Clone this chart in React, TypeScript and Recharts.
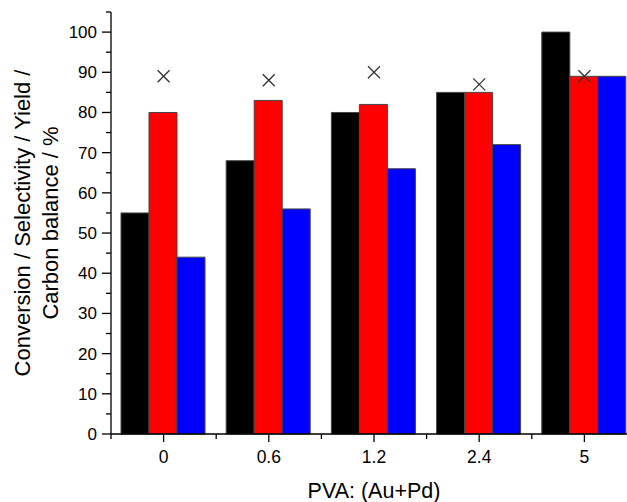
import { ComposedChart, Bar, Line, XAxis, YAxis } from "recharts";

const categories = ["0", "0.6", "1.2", "2.4", "5"];
const conversion = [55, 68, 80, 85, 100];
const selectivity = [80, 83, 82, 85, 89];
const yieldValues = [44, 56, 66, 72, 89];
const carbonBalance = [89, 88, 90, 87, 89];
const yTicks = [0, 5, 10, 15, 20, 25, 30, 35, 40, 45, 50, 55, 60, 65, 70, 75, 80, 85, 90, 95, 100, 105];

const data = categories.map((name, i) => ({
  name,
  conversion: conversion[i],
  selectivity: selectivity[i],
  yield: yieldValues[i],
  balance: carbonBalance[i],
}));

const W = 640;
const H = 502;
const M = { top: 12, right: 3, left: 0, bottom: 0 };
const Y_W = 111;
const X_H = 68;
const BAND = (W - Y_W - M.left - M.right) / categories.length;
const FONT = "'Liberation Sans', Arial, sans-serif";

function YTick(props: any) {
  const { x, y, payload } = props;
  const major = payload.value % 10 === 0 && payload.value <= 100;
  return (
    <g>
      <line x1={x - (major ? 9 : 5)} x2={x} y1={y} y2={y} stroke="#000" strokeWidth={1.3} />
      {major && (
        <text x={x - 14} y={y + 6} textAnchor="end" fontSize={17} fontFamily={FONT} fill="#000">
          {payload.value}
        </text>
      )}
    </g>
  );
}

function XTick(props: any) {
  const { x, y, payload, index } = props;
  return (
    <g>
      <line x1={x} x2={x} y1={y} y2={y + 8} stroke="#000" strokeWidth={1.3} />
      <line x1={x + BAND / 2} x2={x + BAND / 2} y1={y} y2={y + 5} stroke="#000" strokeWidth={1.3} />
      {index === 0 && (
        <line x1={x - BAND / 2} x2={x - BAND / 2} y1={y} y2={y + 5} stroke="#000" strokeWidth={1.3} />
      )}
      <text x={x} y={y + 29} textAnchor="middle" fontSize={17.5} fontFamily={FONT} fill="#000">
        {payload.value}
      </text>
    </g>
  );
}

function YLabel() {
  const cy = M.top + (H - M.top - M.bottom - X_H) / 2;
  return (
    <g fontSize={22} fontFamily={FONT} fill="#000">
      <text transform={`translate(30,${cy}) rotate(-90)`} textAnchor="middle">
        Conversion / Selectivity / Yield /
      </text>
      <text transform={`translate(58,${cy}) rotate(-90)`} textAnchor="middle">
        Carbon balance / %
      </text>
    </g>
  );
}

function XLabel(props: any) {
  const { viewBox } = props;
  return (
    <text x={viewBox.x + viewBox.width / 2} y={498} textAnchor="middle" fontSize={21.5} fontFamily={FONT} fill="#000">
      PVA: (Au+Pd)
    </text>
  );
}

function Cross(props: any) {
  const { cx, cy } = props;
  if (cx == null || cy == null) return null;
  const s = 6;
  return (
    <g stroke="#333" strokeWidth={1.3}>
      <line x1={cx - s} y1={cy - s} x2={cx + s} y2={cy + s} />
      <line x1={cx - s} y1={cy + s} x2={cx + s} y2={cy - s} />
    </g>
  );
}

export default function App() {
  return (
    <div style={{ position: "absolute", left: 0, top: 0, width: 627, height: 502, overflow: "hidden", background: "#fff" }}>
      <ComposedChart width={W} height={H} data={data} margin={M} barCategoryGap={10} barGap={0}>
        <XAxis
          dataKey="name"
          height={X_H}
          tickSize={0}
          tickMargin={0}
          tick={<XTick />}
          stroke="#000"
          strokeWidth={1.3}
          interval={0}
          label={<XLabel />}
        />
        <YAxis
          width={Y_W}
          domain={[0, 105]}
          ticks={yTicks}
          interval={0}
          tickSize={0}
          tickMargin={0}
          tick={<YTick />}
          stroke="#000"
          strokeWidth={1.3}
          label={<YLabel />}
        />
        <Bar dataKey="conversion" fill="#000000" stroke="#444" strokeWidth={1} isAnimationActive={false} />
        <Bar dataKey="selectivity" fill="#ff0000" stroke="#444" strokeWidth={1} isAnimationActive={false} />
        <Bar dataKey="yield" fill="#0000ff" stroke="#444" strokeWidth={1} isAnimationActive={false} />
        <Line
          dataKey="balance"
          stroke="none"
          dot={<Cross />}
          activeDot={false}
          legendType="none"
          isAnimationActive={false}
        />
      </ComposedChart>
    </div>
  );
}
